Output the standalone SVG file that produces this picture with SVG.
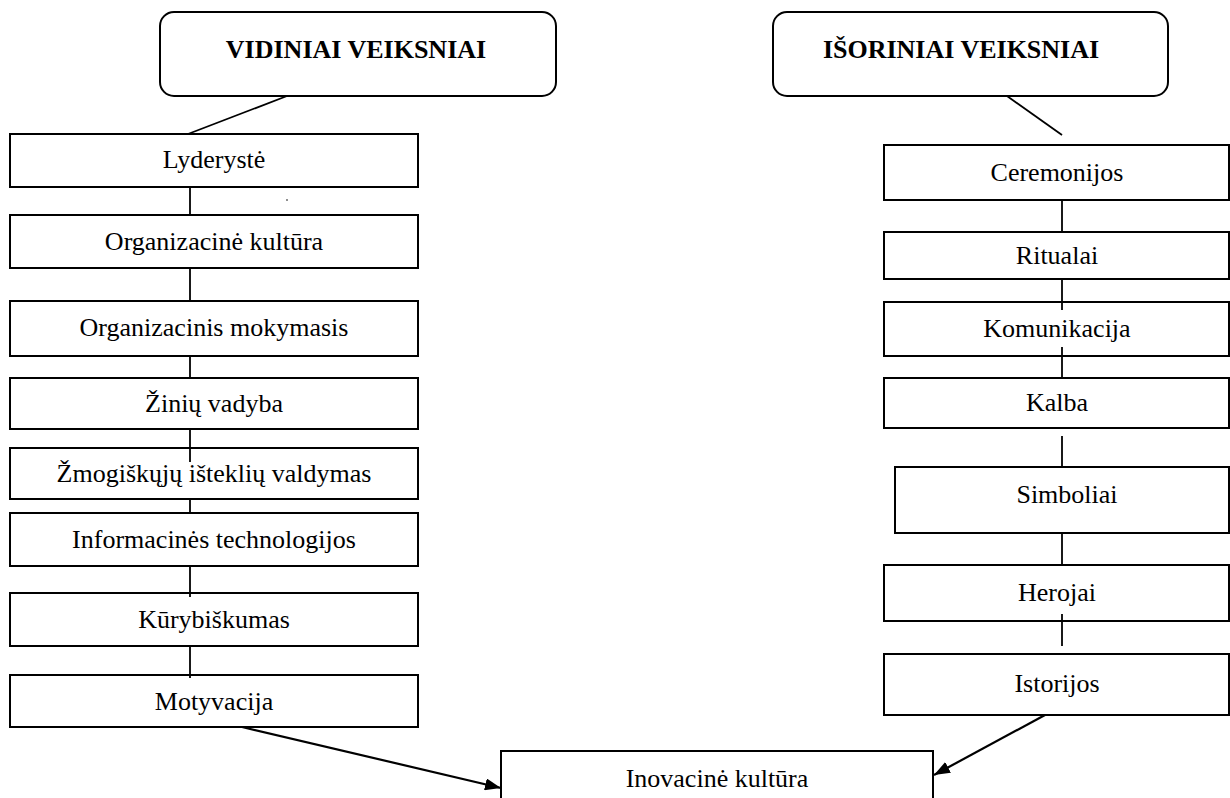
<svg xmlns="http://www.w3.org/2000/svg" width="1230" height="798" viewBox="0 0 1230 798">
  <style>
    .box { fill: #ffffff; stroke: #000000; stroke-width: 2; }
    .head { fill: #ffffff; stroke: #000000; stroke-width: 2; }
    .lbl { font-family: "Liberation Serif", "Times New Roman", serif; font-size: 26px; fill: #000000; text-anchor: middle; }
    .hlbl { font-family: "Liberation Serif", "Times New Roman", serif; font-size: 26px; font-weight: bold; fill: #000000; text-anchor: middle; }
    .link { stroke: #000000; stroke-width: 1.8; fill: none; }
    .arrow { stroke: #000000; stroke-width: 2.2; fill: none; marker-end: url(#head); }
  </style>
  <defs>
    <marker id="head" viewBox="0 0 16 12" refX="16" refY="6" markerWidth="16" markerHeight="12" markerUnits="userSpaceOnUse" orient="auto">
      <path d="M0,0 L16,6 L0,12 Z" fill="#000000"/>
    </marker>
  </defs>
  <rect width="1230" height="798" fill="#ffffff"/>

  <!-- connectors -->
  <g id="connectors">
    <line class="link" x1="287" y1="96" x2="188" y2="134"/>
    <line class="link" x1="190" y1="187" x2="190" y2="215"/>
    <line class="link" x1="190" y1="268" x2="190" y2="301"/>
    <line class="link" x1="190" y1="347" x2="190" y2="378"/>
    <line class="link" x1="190" y1="429" x2="190" y2="462"/>
    <line class="link" x1="190" y1="499" x2="190" y2="513"/>
    <line class="link" x1="190" y1="566" x2="190" y2="597"/>
    <line class="link" x1="190" y1="646" x2="190" y2="678"/>

    <line class="link" x1="1007" y1="96" x2="1062" y2="135"/>
    <line class="link" x1="1062" y1="200" x2="1062" y2="232"/>
    <line class="link" x1="1062" y1="279" x2="1062" y2="310"/>
    <line class="link" x1="1062" y1="347" x2="1062" y2="378"/>
    <line class="link" x1="1062" y1="436" x2="1062" y2="467"/>
    <line class="link" x1="1062" y1="533" x2="1062" y2="565"/>
    <line class="link" x1="1062" y1="614" x2="1062" y2="646"/>
  </g>

  <!-- headings -->
  <g id="vidiniai">
    <rect class="head" x="160" y="12" width="396" height="84" rx="14" ry="14"/>
    <text class="hlbl" x="356" y="58">VIDINIAI VEIKSNIAI</text>
  </g>
  <g id="isoriniai">
    <rect class="head" x="773" y="12" width="395" height="84" rx="14" ry="14"/>
    <text class="hlbl" x="961" y="58">IŠORINIAI VEIKSNIAI</text>
  </g>

  <!-- internal factors -->
  <g id="lyderyste">
    <rect class="box" x="10" y="134" width="408" height="53"/>
    <text class="lbl" x="214" y="168">Lyderystė</text>
  </g>
  <g id="org-kultura">
    <rect class="box" x="10" y="215" width="408" height="53"/>
    <text class="lbl" x="214" y="250">Organizacinė kultūra</text>
  </g>
  <g id="org-mokymasis">
    <rect class="box" x="10" y="301" width="408" height="55"/>
    <text class="lbl" x="214" y="336">Organizacinis mokymasis</text>
  </g>
  <g id="ziniu-vadyba">
    <rect class="box" x="10" y="378" width="408" height="51"/>
    <text class="lbl" x="214" y="412">Žinių vadyba</text>
  </g>
  <g id="zmogiskuju">
    <rect class="box" x="10" y="448" width="408" height="51" fill="none" style="fill:none"/>
    <text class="lbl" x="214" y="482">Žmogiškųjų išteklių valdymas</text>
  </g>
  <g id="informacines">
    <rect class="box" x="10" y="513" width="408" height="53"/>
    <text class="lbl" x="214" y="548">Informacinės technologijos</text>
  </g>
  <g id="kurybiskumas">
    <rect class="box" x="10" y="593" width="408" height="53" style="fill:none"/>
    <text class="lbl" x="214" y="628">Kūrybiškumas</text>
  </g>
  <g id="motyvacija">
    <rect class="box" x="10" y="675" width="408" height="52" style="fill:none"/>
    <text class="lbl" x="214" y="710">Motyvacija</text>
  </g>
  <circle cx="287" cy="200" r="0.8" fill="#000000"/>

  <!-- external factors -->
  <g id="ceremonijos">
    <rect class="box" x="884" y="145" width="345" height="55"/>
    <text class="lbl" x="1057" y="181">Ceremonijos</text>
  </g>
  <g id="ritualai">
    <rect class="box" x="884" y="232" width="345" height="47"/>
    <text class="lbl" x="1057" y="264">Ritualai</text>
  </g>
  <g id="komunikacija">
    <rect class="box" x="884" y="302" width="345" height="54" style="fill:none"/>
    <text class="lbl" x="1057" y="337">Komunikacija</text>
  </g>
  <g id="kalba">
    <rect class="box" x="884" y="378" width="345" height="50" style="fill:none"/>
    <text class="lbl" x="1057" y="411">Kalba</text>
  </g>
  <g id="simboliai">
    <rect class="box" x="895" y="467" width="334" height="66"/>
    <text class="lbl" x="1067" y="503">Simboliai</text>
  </g>
  <g id="herojai">
    <rect class="box" x="884" y="565" width="345" height="56" style="fill:none"/>
    <text class="lbl" x="1057" y="601">Herojai</text>
  </g>
  <g id="istorijos">
    <rect class="box" x="884" y="654" width="345" height="61"/>
    <text class="lbl" x="1057" y="692">Istorijos</text>
  </g>

  <!-- result -->
  <g id="inovacine-kultura">
    <rect class="box" x="501" y="751" width="432" height="70"/>
    <text class="lbl" x="717" y="787">Inovacinė kultūra</text>
  </g>

  <g id="arrows">
    <line class="arrow" x1="242" y1="727" x2="501" y2="788"/>
    <line class="arrow" x1="1045" y1="715" x2="934" y2="775"/>
  </g>
</svg>
